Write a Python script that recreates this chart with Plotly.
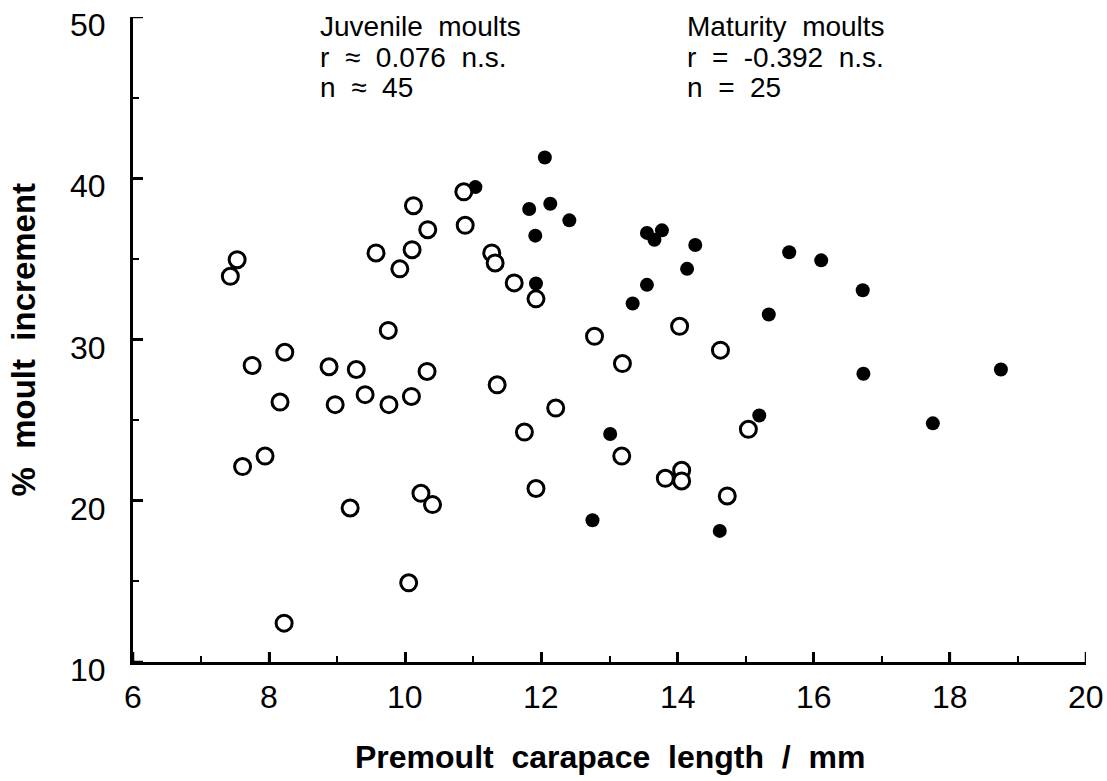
import plotly.graph_objects as go

# Juvenile moults (open circles)
juv_x = [7.53, 7.43, 10.12, 10.33, 9.57, 10.10, 9.92, 10.86, 10.88, 11.27, 11.32, 11.60,
         11.92, 12.78, 9.75, 7.75, 8.23, 8.16, 8.88, 9.28, 10.32, 11.35, 12.21, 8.97,
         9.41, 9.76, 10.09, 7.61, 7.94, 9.19, 10.23, 10.40, 10.05, 8.22, 11.75, 11.92,
         13.19, 14.03, 14.63, 13.18, 13.82, 14.06, 14.06, 14.73, 15.04]
juv_y = [34.95, 33.92, 38.30, 36.81, 35.37, 35.57, 34.38, 39.16, 37.08, 35.37, 34.75, 33.51,
         32.52, 30.20, 30.56, 28.39, 29.21, 26.12, 28.31, 28.14, 28.02, 27.19, 25.75, 25.96,
         26.58, 25.96, 26.47, 22.12, 22.77, 19.55, 20.46, 19.76, 14.91, 12.41, 24.26, 20.76,
         28.51, 30.82, 29.34, 22.77, 21.39, 21.89, 21.23, 20.30, 24.43]

# Maturity moults (filled circles)
mat_x = [11.03, 12.05, 11.82, 12.13, 12.41, 11.91, 11.92, 13.55, 13.77, 13.66, 14.26, 14.14,
         13.55, 13.34, 15.64, 16.11, 16.72, 15.34, 16.73, 15.20, 18.75, 17.75, 13.01, 12.75, 14.62]
mat_y = [39.45, 41.29, 38.09, 38.42, 37.39, 36.44, 33.47, 36.61, 36.77, 36.19, 35.86, 34.38,
         33.39, 32.23, 35.41, 34.91, 33.05, 31.55, 27.88, 25.29, 28.14, 24.80, 24.14, 18.79, 18.13]

x_ticks = [6, 8, 10, 12, 14, 16, 18, 20]
y_ticks = [10, 20, 30, 40, 50]
x_minor = [7, 9, 11, 13, 15, 17, 19]
y_minor = [15, 25, 35, 45]

juv_text = ["Juvenile  moults", "r  \u2248  0.076  n.s.", "n  \u2248  45"]
mat_text = ["Maturity  moults", "r  =  -0.392  n.s.", "n  =  25"]

x_title = "Premoult  carapace  length  /  mm"
y_title = "%  moult  increment"

FONT = "Liberation Sans, Arial, sans-serif"
X_RANGE = [6, 20]
Y_RANGE = [10, 50]

W, H = 1107, 781
M_L, M_R, M_T, M_B = 133, 21, 17, 119
PLOT_W = W - M_L - M_R
PLOT_H = H - M_T - M_B
MAJOR_LEN_PX = 10
# major tick length expressed in axis units (style, derived from the axis scale)
x_unit_len = MAJOR_LEN_PX * (Y_RANGE[1] - Y_RANGE[0]) / PLOT_H
y_unit_len = MAJOR_LEN_PX * (X_RANGE[1] - X_RANGE[0]) / PLOT_W

fig = go.Figure()
fig.add_trace(go.Scatter(
    x=mat_x, y=mat_y, mode="markers", name="Maturity moults",
    marker=dict(symbol="circle", size=14, color="black", line=dict(width=0)),
    cliponaxis=False,
))
fig.add_trace(go.Scatter(
    x=juv_x, y=juv_y, mode="markers", name="Juvenile moults",
    marker=dict(symbol="circle", size=16, color="white", line=dict(color="black", width=3)),
    cliponaxis=False,
))

# major tick marks on the x axis (pointing inward / upward)
fig.add_trace(go.Scatter(
    x=x_ticks, y=[Y_RANGE[0]] * len(x_ticks), mode="markers",
    marker=dict(size=1, opacity=0), hoverinfo="skip", showlegend=False, cliponaxis=False,
    error_y=dict(type="data", symmetric=False, array=[x_unit_len] * len(x_ticks),
                 arrayminus=[0] * len(x_ticks), width=0, thickness=2.5, color="black"),
))
# major tick marks on the y axis (pointing inward / right)
fig.add_trace(go.Scatter(
    x=[X_RANGE[0]] * len(y_ticks), y=y_ticks, mode="markers",
    marker=dict(size=1, opacity=0), hoverinfo="skip", showlegend=False, cliponaxis=False,
    error_x=dict(type="data", symmetric=False, array=[y_unit_len] * len(y_ticks),
                 arrayminus=[0] * len(y_ticks), width=0, thickness=2.5, color="black"),
))

line_y = [49.44, 47.46, 45.6]
for i, t in enumerate(juv_text):
    fig.add_annotation(x=8.72, y=line_y[i], xref="x", yref="y", text=t, showarrow=False,
                       xanchor="left", yanchor="middle",
                       font=dict(family=FONT, size=28, color="black"))
for i, t in enumerate(mat_text):
    fig.add_annotation(x=14.11, y=line_y[i], xref="x", yref="y", text=t, showarrow=False,
                       xanchor="left", yanchor="middle",
                       font=dict(family=FONT, size=28, color="black"))

# tick labels (placed at the axis values)
for v in x_ticks:
    fig.add_annotation(x=v, y=-0.0543, xref="x", yref="paper", text=str(v), showarrow=False,
                       xanchor="center", yanchor="middle",
                       font=dict(family=FONT, size=32, color="black"))
for v in y_ticks:
    fig.add_annotation(x=-0.0262, y=v, xref="paper", yref="y", text=str(v), showarrow=False,
                       xanchor="right", yanchor="middle", yshift=-8,
                       font=dict(family=FONT, size=32, color="black"))

# axis titles
fig.add_annotation(x=0.5005, y=-0.147, xref="paper", yref="paper", text="<b>" + x_title + "</b>",
                   showarrow=False, xanchor="center", yanchor="middle",
                   font=dict(family=FONT, size=32, color="black"))
fig.add_annotation(x=-0.1144, y=0.5, xref="paper", yref="paper", text="<b>" + y_title + "</b>",
                   showarrow=False, xanchor="center", yanchor="middle", textangle=-90,
                   font=dict(family=FONT, size=33, color="black"))

fig.update_layout(
    width=W, height=H,
    margin=dict(l=M_L, r=M_R, t=M_T, b=M_B, autoexpand=False),
    paper_bgcolor="white", plot_bgcolor="white",
    showlegend=False,
    font=dict(family=FONT, color="black"),
    xaxis=dict(
        range=X_RANGE, tickvals=x_ticks, showticklabels=False,
        showgrid=False, zeroline=False, automargin=False,
        showline=True, linecolor="black", linewidth=3,
        ticks="inside", ticklen=10, tickwidth=2.5, tickcolor="#000000",
    ),
    yaxis=dict(
        range=Y_RANGE, tickvals=y_ticks, showticklabels=False,
        showgrid=False, zeroline=False, automargin=False,
        showline=True, linecolor="black", linewidth=3,
        ticks="inside", ticklen=10, tickwidth=2.5, tickcolor="#000000",
    ),
    # overlay axes carrying the minor ticks
    xaxis3=dict(
        overlaying="x", anchor="y", side="bottom", range=X_RANGE,
        tickvals=x_minor, ticks="inside", ticklen=6, tickwidth=2, tickcolor="#000000",
        showticklabels=False, showgrid=False, zeroline=False, showline=False, automargin=False,
    ),
    yaxis3=dict(
        overlaying="y", anchor="x", side="left", range=Y_RANGE,
        tickvals=y_minor, ticks="inside", ticklen=6, tickwidth=2, tickcolor="#000000",
        showticklabels=False, showgrid=False, zeroline=False, showline=False, automargin=False,
    ),
)
# empty helper trace so the overlay axes are drawn
fig.add_trace(go.Scatter(x=[], y=[], xaxis="x3", yaxis="y3", mode="markers",
                         showlegend=False, hoverinfo="skip"))

fig.write_html("out.html")
